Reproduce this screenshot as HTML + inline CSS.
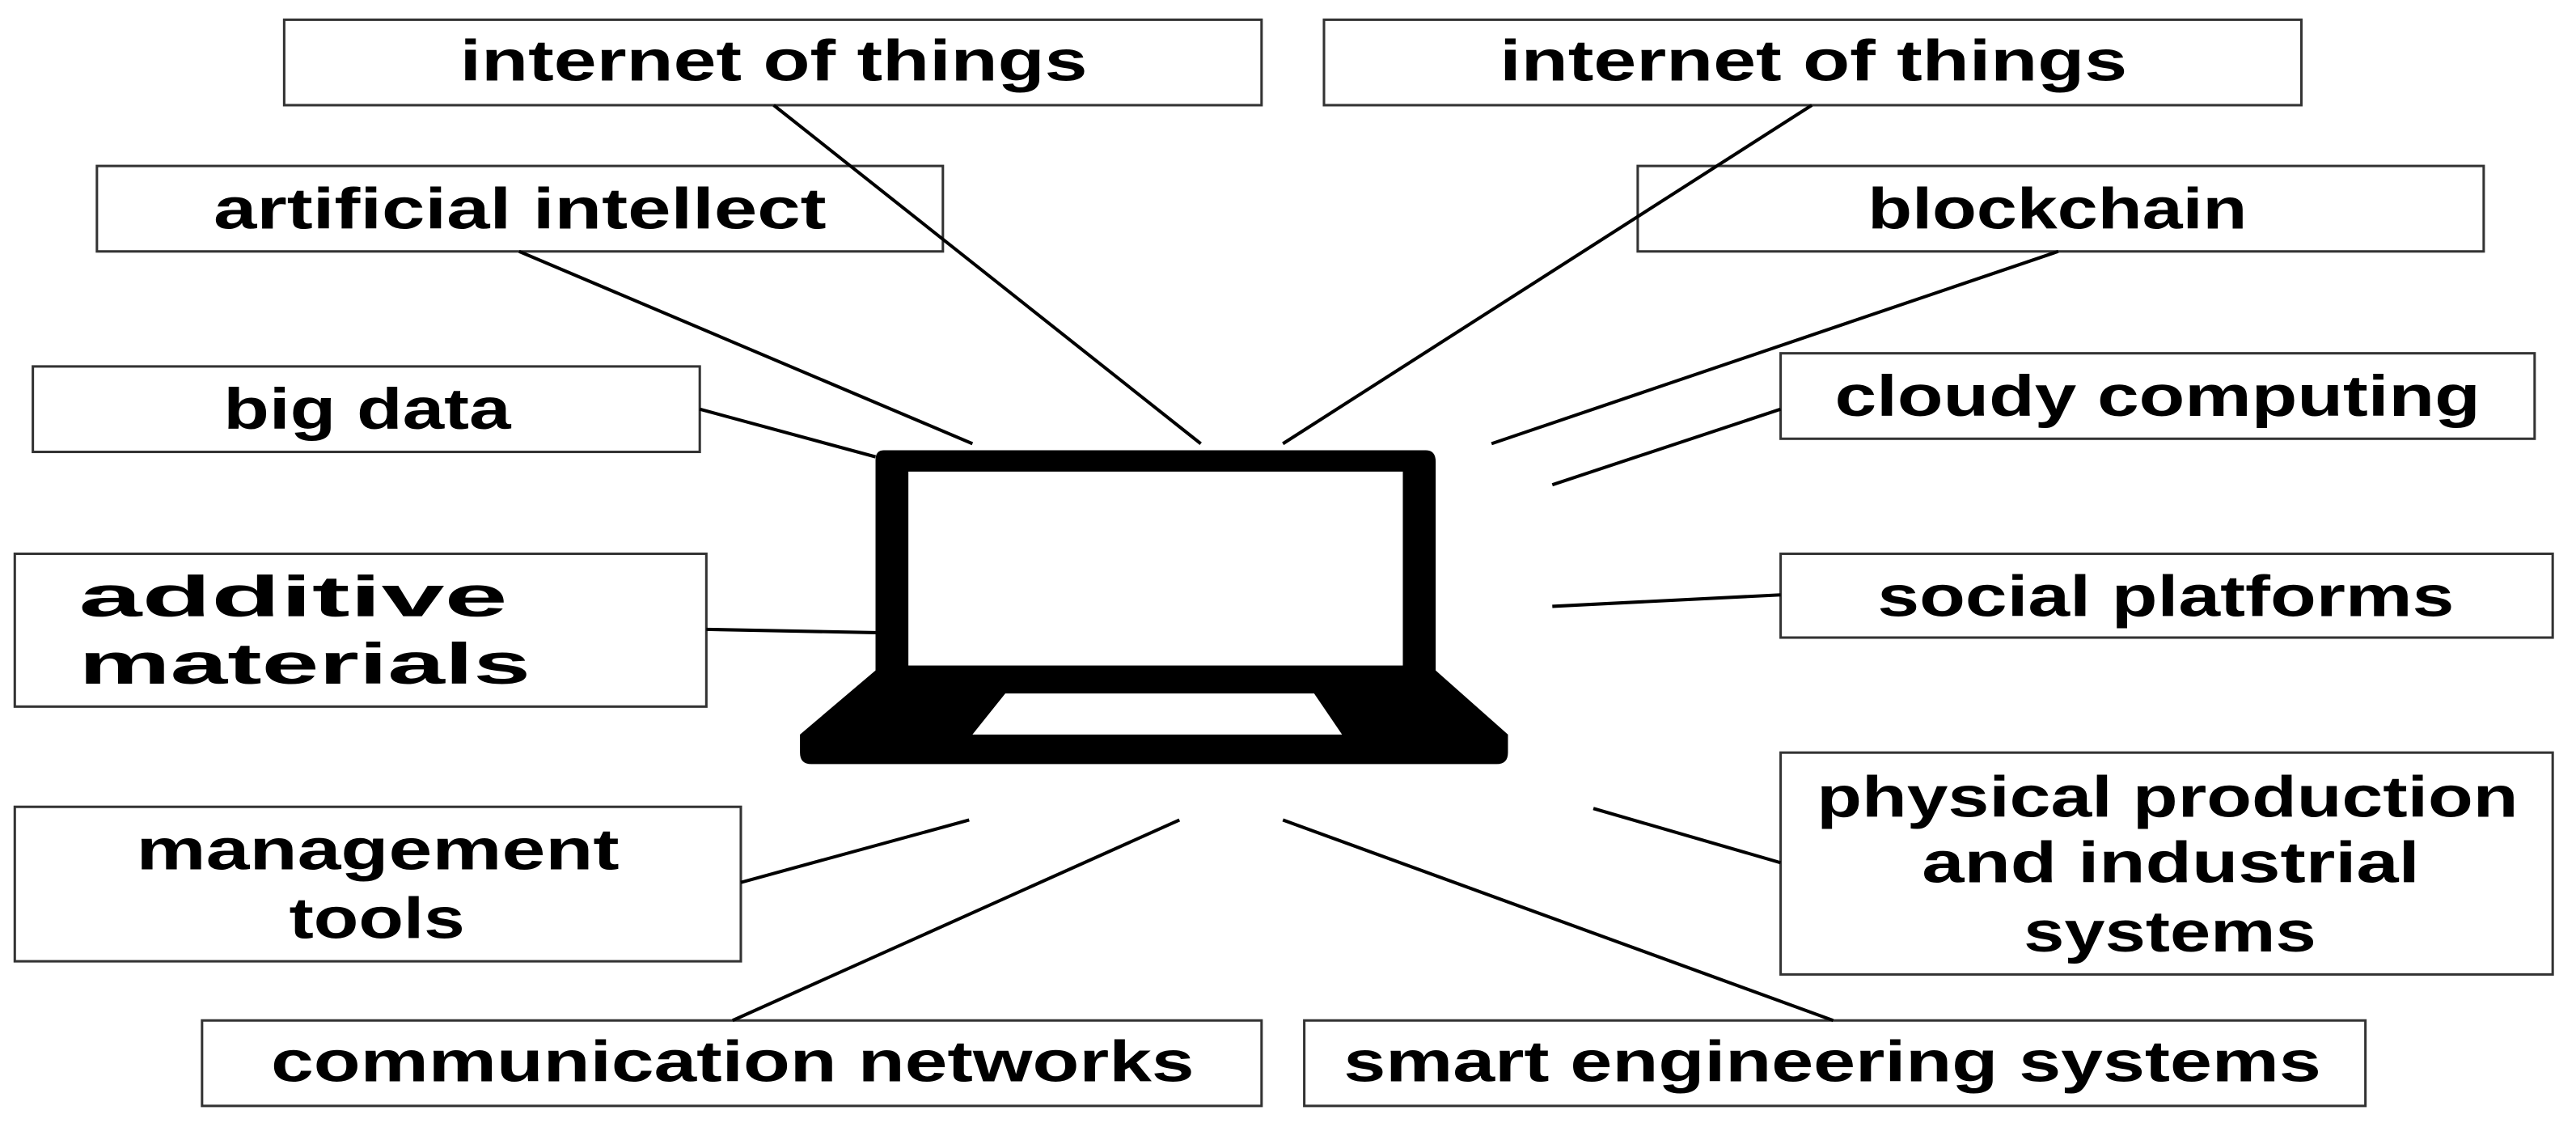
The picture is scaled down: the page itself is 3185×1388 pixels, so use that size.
<!DOCTYPE html>
<html><head><meta charset="utf-8"><style>
html,body{margin:0;padding:0;background:#fff;}
svg{display:block;}
text{font-family:"Liberation Sans",sans-serif;font-weight:bold;font-size:35px;fill:#000;}
</style></head><body>
<svg width="3185" height="1388" viewBox="0 0 3185 1388" xmlns="http://www.w3.org/2000/svg">
<rect width="3185" height="1388" fill="#fff"/>
<g transform="scale(2.031)">
<g fill="#fff" stroke="#333" stroke-width="1.5">
<rect x="173" y="12" width="595" height="52"/>
<rect x="806" y="12" width="595" height="52"/>
<rect x="59" y="101" width="515" height="52"/>
<rect x="997" y="101" width="515" height="52"/>
<rect x="20" y="223" width="406" height="52"/>
<rect x="1084" y="215" width="459" height="52"/>
<rect x="9" y="337" width="421" height="93"/>
<rect x="1084" y="337" width="470" height="51"/>
<rect x="9" y="491" width="442" height="94"/>
<rect x="1084" y="458" width="470" height="135"/>
<rect x="123" y="621" width="645" height="52"/>
<rect x="794" y="621" width="646" height="52"/>
</g>
<g stroke="#000" stroke-width="2">
<line x1="471" y1="64" x2="731" y2="270"/>
<line x1="316" y1="153" x2="592" y2="270"/>
<line x1="426" y1="249" x2="533" y2="278"/>
<line x1="430" y1="383" x2="533" y2="385"/>
<line x1="1103" y1="64" x2="781" y2="270"/>
<line x1="1253" y1="153" x2="908" y2="270"/>
<line x1="1084" y1="249" x2="945" y2="295"/>
<line x1="1084" y1="362" x2="945" y2="369"/>
<line x1="1084" y1="525" x2="970" y2="492"/>
<line x1="451" y1="537" x2="590" y2="499"/>
<line x1="446" y1="621" x2="718" y2="499"/>
<line x1="1116" y1="621" x2="781" y2="499"/>
</g>
<path d="M538,274 H868 Q874,274 874,281 V408 L918,447 V458 Q918,465 911,465 H494 Q487,465 487,458 V447 L533,408 V280 Q533,274 538,274 Z" fill="#000"/>
<rect x="553" y="287" width="301" height="118" fill="#fff"/>
<path d="M612,422 H800 L817,447 H592 Z" fill="#fff"/>
<g>
<text x="280" y="49" textLength="382" lengthAdjust="spacingAndGlyphs">internet of things</text>
<text x="913" y="49" textLength="382" lengthAdjust="spacingAndGlyphs">internet of things</text>
<text x="130" y="139" textLength="373" lengthAdjust="spacingAndGlyphs">artificial intellect</text>
<text x="1137" y="139" textLength="231" lengthAdjust="spacingAndGlyphs">blockchain</text>
<text x="136" y="261" textLength="175" lengthAdjust="spacingAndGlyphs">big data</text>
<text x="1117" y="253" textLength="393" lengthAdjust="spacingAndGlyphs">cloudy computing</text>
<text x="48" y="375" textLength="261" lengthAdjust="spacingAndGlyphs">additive</text>
<text x="48" y="416" textLength="275" lengthAdjust="spacingAndGlyphs">materials</text>
<text x="1143" y="375" textLength="351" lengthAdjust="spacingAndGlyphs">social platforms</text>
<text x="83" y="529" textLength="294" lengthAdjust="spacingAndGlyphs">management</text>
<text x="176" y="571" textLength="107" lengthAdjust="spacingAndGlyphs">tools</text>
<text x="1106" y="497" textLength="427" lengthAdjust="spacingAndGlyphs">physical production</text>
<text x="1170" y="537" textLength="303" lengthAdjust="spacingAndGlyphs">and industrial</text>
<text x="1232" y="579" textLength="178" lengthAdjust="spacingAndGlyphs">systems</text>
<text x="165" y="658" textLength="562" lengthAdjust="spacingAndGlyphs">communication networks</text>
<text x="818" y="658" textLength="595" lengthAdjust="spacingAndGlyphs">smart engineering systems</text>
</g>
</g>
</svg>
</body></html>
